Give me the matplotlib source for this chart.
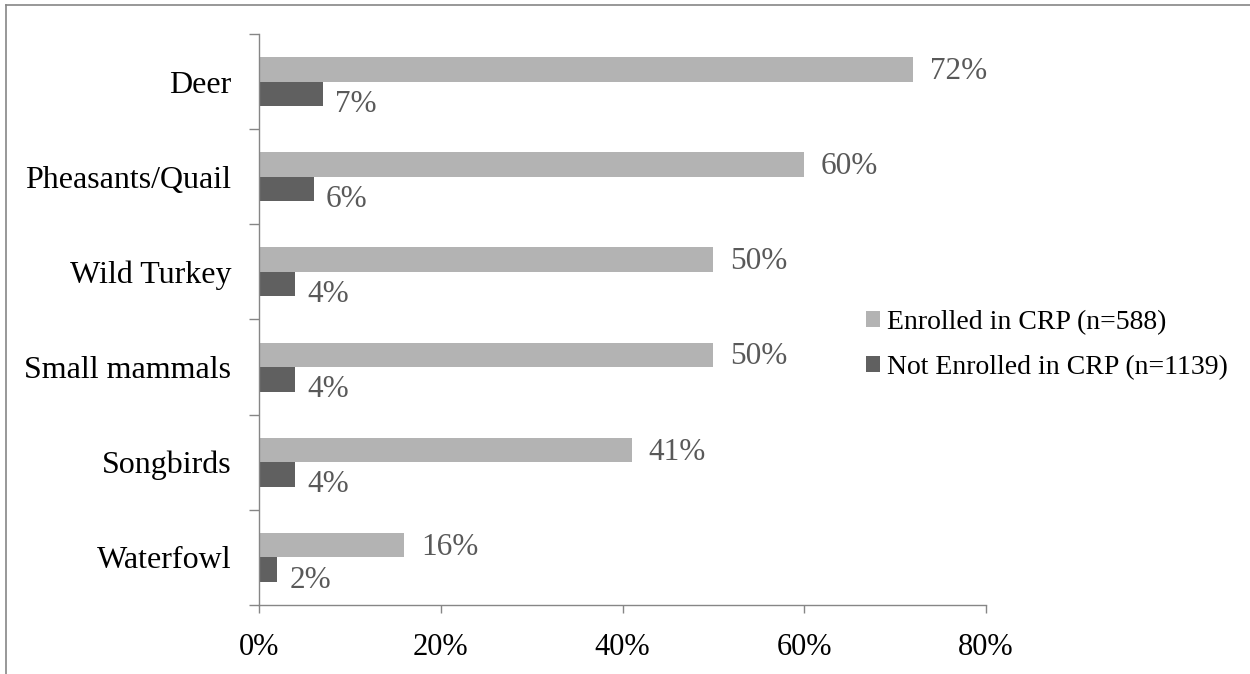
import matplotlib
matplotlib.use('agg')
import matplotlib.pyplot as plt
from matplotlib.lines import Line2D
import numpy as np

categories = ['Deer', 'Pheasants/Quail', 'Wild Turkey', 'Small mammals', 'Songbirds', 'Waterfowl']
enrolled = [72, 60, 50, 50, 41, 16]
not_enrolled = [7, 6, 4, 4, 4, 2]
series_names = ['Enrolled in CRP (n=588)', 'Not Enrolled in CRP (n=1139)']
xticks = [0, 20, 40, 60, 80]

plt.rcParams['font.family'] = ['Liberation Serif', 'DejaVu Serif']

fig = plt.figure(figsize=(12.5, 6.74), dpi=100)
ax = fig.add_axes([0.2072, 0.1024, 0.5816, 0.8472])

idx = np.arange(len(categories))
h = 0.257
b1 = ax.barh(idx - h / 2, enrolled, height=h, color='#b3b3b3', label=series_names[0])
b2 = ax.barh(idx + h / 2, not_enrolled, height=h, color='#606060', label=series_names[1])

for i in range(len(categories)):
    ax.annotate('%d%%' % enrolled[i], (enrolled[i], idx[i] - h / 2), xytext=(12, -1.5),
                textcoords='offset points', va='center', ha='left', fontsize=22.5, color='#595959')
    ax.annotate('%d%%' % not_enrolled[i], (not_enrolled[i], idx[i] + h / 2), xytext=(9, -7.5),
                textcoords='offset points', va='center', ha='left', fontsize=22.5, color='#595959')

ax.set_xlim(0, 80)
ax.set_ylim(len(categories) - 0.5, -0.5)
ax.set_xticks(xticks)
ax.set_xticklabels(['%d%%' % t for t in xticks], fontsize=22)
ax.set_yticks(np.arange(-0.5, len(categories)))
ax.set_yticklabels([])
ax.set_yticks(idx, minor=True)
ax.set_yticklabels(categories, minor=True, fontsize=23)
ax.tick_params(axis='y', which='minor', length=0, pad=20)
ax.tick_params(axis='y', which='major', length=7, color='#868686', width=1)
ax.tick_params(axis='x', length=6, color='#868686', width=1, pad=14)

for s in ['top', 'right']:
    ax.spines[s].set_visible(False)
for s in ['left', 'bottom']:
    ax.spines[s].set_color('#868686')
    ax.spines[s].set_linewidth(1)

fig.legend(handles=[b1, b2], loc='upper left', bbox_to_anchor=(0.684, 0.557), frameon=False,
           fontsize=20, handlelength=0.5, handleheight=0.5, handletextpad=0.25, labelspacing=0.72,
           borderaxespad=0)

# outer frame (top and left edges)
fig.add_artist(Line2D([0.005, 1.0], [0.992, 0.992], color='#868686', lw=1.2, transform=fig.transFigure))
fig.add_artist(Line2D([0.005, 0.005], [0.0, 0.992], color='#868686', lw=1.2, transform=fig.transFigure))

fig.savefig('out.png', dpi=100)
